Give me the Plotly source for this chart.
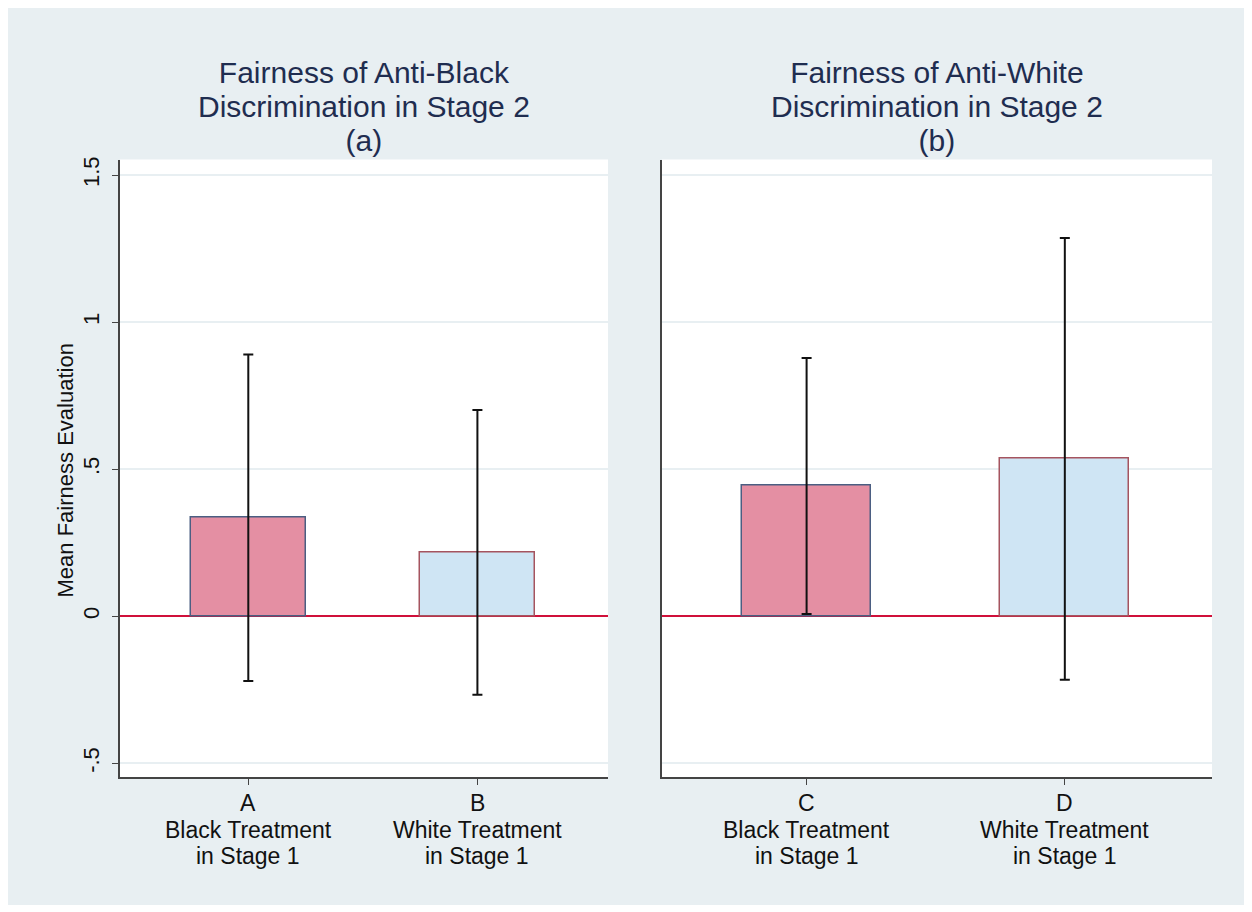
import plotly.graph_objects as go

# ---- data ----
cats_a = ["A", "B"]
cats_b = ["C", "D"]
sub_a = ["Black Treatment", "White Treatment"]
sub_b = ["Black Treatment", "White Treatment"]
means_a = [0.335, 0.217]
means_b = [0.443, 0.535]
ci_a = [0.555, 0.484]
ci_b = [0.435, 0.751]
title_a = ["Fairness of Anti-Black", "Discrimination in Stage 2", "(a)"]
title_b = ["Fairness of Anti-White", "Discrimination in Stage 2", "(b)"]
ytick_vals = [-0.5, 0, 0.5, 1, 1.5]
ytick_text = ["-.5", "0", ".5", "1", "1.5"]
y_title = "Mean Fairness Evaluation"

W, H = 1239, 897
O = 8  # page body margin
BG = "#e8eff2"
PINK = "#e48fa3"
PINK_LINE = "#4b5e82"
BLUE = "#cfe5f4"
BLUE_LINE = "#a5545f"
RED = "#d0103a"
NAVY = "#1f2d50"
FONT = "Liberation Sans, Arial, sans-serif"

fig = go.Figure()

for cats, means, ci, xa, ya in [(cats_a, means_a, ci_a, "x", "y"), (cats_b, means_b, ci_b, "x2", "y2")]:
    fig.add_trace(go.Bar(
        x=cats, y=means, xaxis=xa, yaxis=ya, width=0.5,
        marker=dict(color=[PINK, BLUE], line=dict(color=[PINK_LINE, BLUE_LINE], width=1.5)),
        error_y=dict(type="data", array=ci, visible=True, color="#111111", thickness=2, width=5),
        showlegend=False,
    ))

px = lambda v: (v - O) / W
py = lambda v: 1 - (v - O) / H

common_y = dict(range=[-0.548, 1.553], tickvals=ytick_vals, ticktext=ytick_text,
                showgrid=True, gridcolor=BG, gridwidth=1.5,
                zeroline=True, zerolinecolor=RED, zerolinewidth=1.5,
                showline=True, linecolor="#444444", linewidth=1.5,
                tickangle=-90, tickfont=dict(size=22, color="#111111", family=FONT))
common_x = dict(range=[-0.56, 1.57], type="category", showgrid=False, zeroline=False,
                showline=True, linecolor="#444444", linewidth=1.5,
                ticks="outside", ticklen=6, tickcolor="#444444", showticklabels=False)

fig.update_layout(
    width=W, height=H,
    margin=dict(l=0, r=0, t=0, b=0),
    paper_bgcolor=BG, plot_bgcolor="white",
    font=dict(family=FONT),
    bargap=0,
    xaxis=dict(domain=[px(120), px(608)], anchor="y", **common_x),
    xaxis2=dict(domain=[px(662), px(1212)], anchor="y2", **common_x),
    yaxis=dict(domain=[py(777), py(157)], anchor="x", ticks="outside", ticklen=6,
               tickcolor="#444444", ticklabelstandoff=4, **common_y),
    yaxis2=dict(domain=[py(777), py(157)], anchor="x2", ticks="", showticklabels=False,
                **common_y),
)

ann = []
for lines, xref in [(title_a, "x domain"), (title_b, "x2 domain")]:
    txt = "<br>".join(f'<span style="font-size:30px">{t}</span>' for t in lines)
    ann.append(dict(text=txt, x=0.5, xref=xref, y=py(104), yref="paper",
                    xanchor="center", yanchor="middle", showarrow=False,
                    font=dict(size=26.2, color=NAVY, family=FONT)))

lab_y = [803, 830, 856]
for cats, subs, xref in [(cats_a, sub_a, "x"), (cats_b, sub_b, "x2")]:
    for c, s in zip(cats, subs):
        for t, yy in zip([c, s, "in Stage 1"], lab_y):
            ann.append(dict(text=t, x=c, xref=xref, y=py(yy), yref="paper",
                            xanchor="center", yanchor="middle", showarrow=False,
                            font=dict(size=23, color="#111111", family=FONT)))

ann.append(dict(text=y_title, x=px(65), xref="paper", y=py(469), yref="paper",
                textangle=-90, xanchor="center", yanchor="middle", showarrow=False,
                font=dict(size=22, color="#111111", family=FONT)))
fig.update_layout(annotations=ann)

fig.write_html("out.html")
